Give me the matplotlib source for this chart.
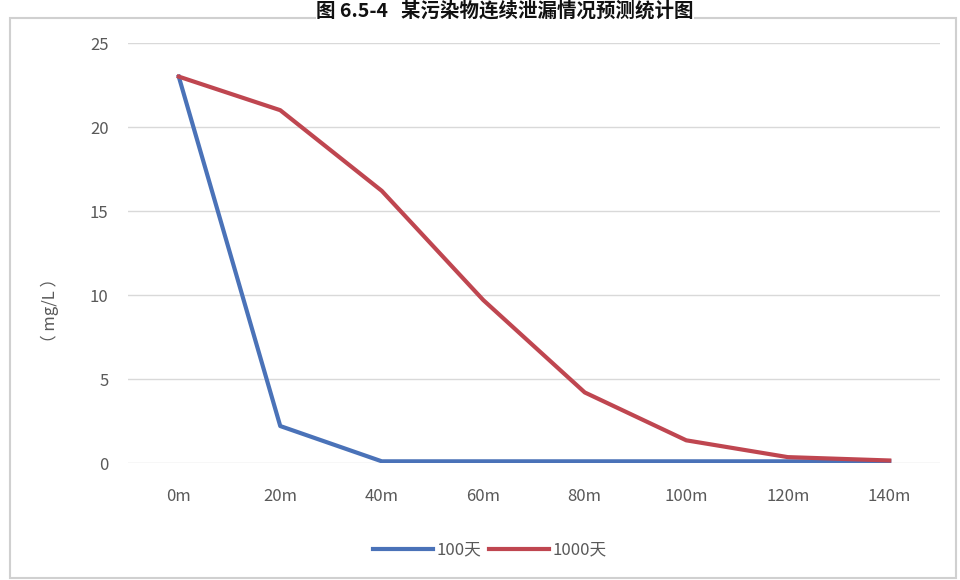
import numpy as np
import matplotlib.pyplot as plt
from matplotlib.patches import Rectangle

plt.rcParams['font.family'] = ['Noto Sans CJK SC', 'DejaVu Sans']

distance = ['0m', '20m', '40m', '60m', '80m', '100m', '120m', '140m']
conc_100d = [23, 2.2, 0.1, 0.1, 0.1, 0.1, 0.1, 0.1]
conc_1000d = [23, 21, 16.2, 9.7, 4.2, 1.35, 0.35, 0.15]
title = '图 6.5-4   某污染物连续泄漏情况预测统计图'

fig = plt.figure(figsize=(9.6, 5.8), dpi=100)
ax = fig.add_axes([128/960, 1 - 463/580, 812/960, 420/580])

# chart frame
fig.patches.append(Rectangle((10/960, 2/580), 946/960, 560/580, transform=fig.transFigure,
                             fill=False, edgecolor='#d0d0d0', lw=1.5))

x = np.arange(len(distance))
ax.plot(x, conc_100d, color='#4a72b8', lw=3, label='100天', solid_joinstyle='round')
ax.plot(x, conc_1000d, color='#bf4650', lw=3, label='1000天', solid_joinstyle='round')

ax.set_xlim(-0.5, len(distance) - 0.5)
ax.set_ylim(0, 25)
ax.set_yticks(range(0, 26, 5))
ax.set_xticks(x)
ax.set_xticklabels(distance)
ax.yaxis.grid(True, color='#d9d9d9', lw=1)
ax.set_axisbelow(True)
for s in ax.spines.values():
    s.set_visible(False)
ax.tick_params(length=0, labelsize=12, colors='#595959')
ax.tick_params(axis='y', pad=14)
ax.tick_params(axis='x', pad=18)
ax.set_ylabel('（ mg/L ）', fontsize=12, color='#595959')
ax.yaxis.set_label_coords(-0.085, 0.364)

fig.legend(loc='center', bbox_to_anchor=(490/960, 1 - 550/580), ncol=2, frameon=False,
           fontsize=12, handlelength=3.6, handletextpad=0.2, columnspacing=0.5,
           labelcolor='#595959')

fig.text(505/960, 1 - 1/580, title, ha='center', va='top', fontsize=14,
         fontweight='bold', color='#111111',
         bbox=dict(facecolor='white', edgecolor='none', pad=0))

fig.savefig('out.png', dpi=100)
